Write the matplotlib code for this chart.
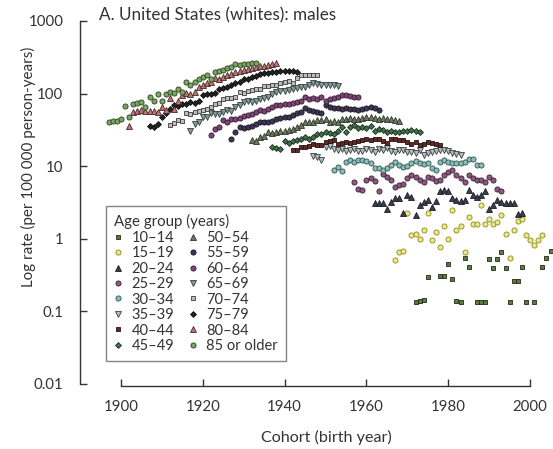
import numpy as np
import matplotlib
matplotlib.use('Agg')
import matplotlib.pyplot as plt
from matplotlib.ticker import NullLocator

plt.rcParams['font.family'] = ['Lato', 'DejaVu Sans']

age_groups = ['10–14', '15–19', '20–24', '25–29', '30–34', '35–39', '40–44', '45–49',
              '50–54', '55–59', '60–64', '65–69', '70–74', '75–79', '80–84', '85 or older']
first_cohort = [1972, 1967, 1962, 1957, 1952, 1947, 1942, 1937,
                1932, 1927, 1922, 1917, 1912, 1907, 1902, 1897]

nan = np.nan
r10_14 = [0.136, 0.14, 0.143, 0.30, nan, nan, 0.31, 0.31, 0.45, 0.28, 0.14, 0.136, 0.55, 0.41, nan,
          0.133, 0.133, 0.133, 0.52, 0.39, 0.52, 0.66, 0.39, 0.133, 0.26, 0.26, 0.41, 0.135, nan,
          0.135, nan, 0.41, 0.55, 0.68, nan, nan, nan]
r15_19 = [0.51, 0.66, 0.68, 2.25, 1.13, 1.16, 1.0, 1.34, 2.3, 0.95, 1.25, 0.76, 1.5, 0.99, 2.5,
          1.34, 1.5, 0.66, 2.0, 1.6, 1.6, 2.9, 1.6, 1.85, 1.6, 1.7, 2.1, 1.18, 0.54, 1.34, 1.78,
          1.9, 1.13, 0.95, 0.82, 0.95, 1.13]
r20_24 = [3.1, 3.1, 3.1, 2.6, 3.2, 3.7, 3.6, 2.3, 4.0, 3.8, 2.1, 2.9, 3.2, 3.4, 2.7, 3.3, 4.5,
          4.7, 4.6, 3.6, 3.4, 3.3, 3.4, 4.7, 4.0, 3.8, 4.0, 4.5, 2.6, 2.9, 3.4, 3.2, 3.1, 3.1,
          3.1, 2.2, 2.3]
r25_29 = [6.1, 4.9, 4.7, 6.5, 6.8, 6.3, 4.6, 7.9, 7.2, 6.5, 5.2, 5.5, 5.6, 6.8, 7.6, 7.1, 6.5,
          6.1, 7.1, 6.8, 6.3, 6.5, 7.6, 8.4, 8.9, 7.5, 6.8, 6.1, 7.6, 6.8, 6.5, 6.5, 6.1, 7.2,
          6.5, 4.9, 4.5]
r30_34 = [8.9, 9.6, 8.5, 11.4, 12.1, 11.5, 12, 12.1, 11.8, 11, 9.3, 9.5, 8.9, 9.3, 10.5, 11.4,
          10.5, 9.8, 10, 10.9, 11.8, 11.2, 10.8, 10.9, 9.3, 8.9, 11.4, 12.1, 11.5, 11, 10.9,
          11.2, 11.5, 12.6, 12.5, 10.3, 10.3]
r35_39 = [14, 13.5, 12, 18.6, 19, 17.5, 16.5, 17, 16, 16.5, 17, 16.3, 16, 17, 16.5, 15.5, 17,
          16.5, 17.7, 16, 15.8, 16.5, 16.5, 15.8, 15.5, 15, 16.5, 14.2, 15, 15.8, 16, 16.5,
          16.5, 16, 15, 14.5, 14.2]
r40_44 = [16.5, 16.7, 18.6, 18.5, 19, 20, 19.5, 19.5, 21.6, 22, 22.9, 20.5, 21, 21.5, 21, 21.5,
          22, 23, 23.5, 23, 24, 23.5, 22.5, 21, 24, 23.5, 23, 23, 21.5, 20.5, 21.6, 19.5, 20,
          21.6, 21, 20, 19.5]
r45_49 = [18.6, 18, 17.5, 22, 21, 22, 23, 24, 25, 24, 25, 28, 28, 30, 29, 28, 31, 35, 30, 35,
          37, 34, 35, 34, 36, 31, 33, 32, 30, 31, 30, 30, 31, 31, 32, 31, 30]
r50_54 = [23, 22, 25, 26, 30, 29, 30, 31, 31, 32, 33, 35, 37, 41, 41, 40, 43, 43, 44, 41, 42,
          41, 44, 45, 46, 44, 44, 46, 47, 48, 46, 45, 46, 45, 44, 43, 42]
r55_59 = [24, 30, 35, 34, 35, 36, 38, 40, 41, 41, 42, 45, 46, 48, 47, 50, 54, 56, 63, 60, 58,
          56, 54, 70, 66, 64, 63, 62, 63, 61, 62, 60, 62, 63, 66, 63, 60]
r60_64 = [27, 33, 35, 43, 41, 44, 45, 46, 49, 51, 53, 56, 59, 58, 62, 66, 70, 70, 72, 73, 75,
          76, 78, 91, 85, 88, 83, 91, 80, 85, 88, 90, 95, 95, 93, 91, 89]
r65_69 = [31, 38, 41, 48, 47, 54, 52, 53, 55, 60, 58, 65, 70, 77, 80, 77, 80, 85, 88, 91, 98,
          106, 110, 108, 112, 115, 120, 124, 124, 130, 139, 136, 133, 133, 130, 130, 128]
r70_74 = [37, 39, 43, 42, 54, 53, 55, 58, 59, 62, 66, 73, 75, 85, 88, 87, 91, 106, 103, 110,
          112, 115, 115, 126, 128, 130, 133, 139, 146, 150, 139, 163, 180, 178, 180, 180, 178]
r75_79 = [36, 35, 38, 48, 54, 62, 70, 68, 72, 73, 77, 74, 78, 95, 100, 98, 103, 115, 118, 124,
          130, 139, 145, 157, 160, 171, 176, 185, 193, 190, 197, 200, 206, 204, 208, 206, 200]
r80_84 = [36, 55, 57, 59, 57, 57, 57, 56, 65, 60, 88, 62, 80, 95, 103, 100, 106, 124, 130, 139,
          145, 163, 158, 170, 180, 185, 200, 207, 210, 215, 223, 232, 238, 240, 248, 255, 262]
r85_plus = [41, 42, 42, 44, 67, 47, 73, 75, 77, 65, 89, 78, 98, 78, 100, 106, 103, 115, 106,
            143, 130, 146, 157, 171, 182, 157, 200, 206, 214, 222, 235, 256, 248, 256, 252, 262, 267]

rates = [r10_14, r15_19, r20_24, r25_29, r30_34, r35_39, r40_44, r45_49,
         r50_54, r55_59, r60_64, r65_69, r70_74, r75_79, r80_84, r85_plus]

markers = ['s', 'o', '^', 'o', 'o', 'v', 's', 'D', '^', 'o', 'o', 'v', 's', 'D', '^', 'o']
faces = ['#5d7a45', '#ebe787', '#3b3d4f', '#8a5a7c', '#8cbcb7', '#b4bcbc', '#5e2a26', '#41704a',
         '#6a7862', '#3d3552', '#7c4576', '#849898', '#bcbcbc', '#222222', '#b87676', '#7aa660']
edges = ['#1e2a12', '#8c8a1e', '#1d1d28', '#3d2035', '#2f5552', '#3a4040', '#2a1210', '#1a2e1c',
         '#2e3528', '#1a1525', '#351a30', '#344040', '#3a3a3a', '#101010', '#4a2828', '#2b3f20']
msizes = [3.5, 3.7, 3.8, 3.7, 3.7, 3.8, 3.5, 3.0, 3.8, 3.7, 3.7, 3.8, 3.5, 3.0, 3.8, 3.7]

txt = '#333333'

fig = plt.figure(figsize=(5.53, 4.49), dpi=100)
ax = fig.add_axes([80 / 553, 1 - 386 / 449, 473 / 553, 365 / 449])
ax.set_yscale('log')

for lab, start, vals, m, fc, ec, ms in zip(age_groups, first_cohort, rates, markers, faces, edges, msizes):
    v = np.array(vals, dtype=float)
    coh = start + np.arange(len(v))
    ax.plot(coh, v, linestyle='none', marker=m, ms=ms, mfc=fc, mec=ec, mew=0.6, label=lab)

ax.set_xlim(1890, 2005.6)
ax.set_ylim(0.00938, 1000)
ax.set_yticks([0.01, 0.1, 1, 10, 100, 1000])
ax.set_yticklabels(['0.01', '0.1', '1', '10', '100', '1000'])
ax.yaxis.set_minor_locator(NullLocator())
ax.set_xticks([1900, 1920, 1940, 1960, 1980, 2000])
ax.tick_params(direction='in', length=5, width=1, color=txt, labelsize=10.8, labelcolor=txt)
ax.tick_params(axis='y', pad=12)
ax.tick_params(axis='x', pad=10)

for s in ['top', 'right']:
    ax.spines[s].set_visible(False)
for s in ['left', 'bottom']:
    ax.spines[s].set_color(txt)
    ax.spines[s].set_linewidth(1)
ax.spines['left'].set_bounds(0.01, 1000)
ax.spines['bottom'].set_bounds(1900, 2000)

leg = ax.legend(ncol=2, loc='lower left', bbox_to_anchor=(0.055, 0.0685), borderaxespad=0,
                title='Age group (years)', fontsize=10.5, title_fontsize=10.8, frameon=True,
                fancybox=False, edgecolor='#666666', handlelength=0.6, handletextpad=0.6,
                columnspacing=1.0, labelspacing=0.1, borderpad=0.55, markerscale=1.0)
leg._legend_box.align = 'left'
leg.get_frame().set_linewidth(1)
for t in leg.get_texts():
    t.set_color(txt)
leg.get_title().set_color(txt)

fig.text(99 / 553, 1 - 15 / 449, 'A. United States (whites): males', fontsize=12.3,
         color=txt, ha='left', va='center')
fig.text(28 / 553, 1 - 167 / 449, 'Log rate (per 100 000 person-years)', fontsize=10.9,
         color=txt, rotation=90, ha='center', va='center')
fig.text(326 / 553, 1 - 437 / 449, 'Cohort (birth year)', fontsize=11.6,
         color=txt, ha='center', va='center')

fig.savefig('out.png', dpi=100)
